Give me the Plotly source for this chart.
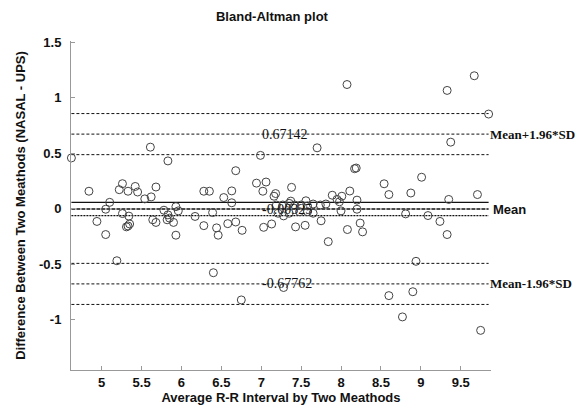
import plotly.graph_objects as go

# ---- data ----
avg_rr = [4.62, 4.84, 4.94, 5.05, 5.05, 5.10, 5.19, 5.22, 5.26, 5.26, 5.31, 5.33, 5.35, 5.33, 5.34,
          5.42, 5.45, 5.54, 5.62, 5.61, 5.64, 5.68, 5.68, 5.78, 5.83, 5.83, 5.85, 5.82, 5.90, 5.93,
          5.96, 5.93, 6.17, 6.28, 6.35, 6.28, 6.39, 6.40, 6.44, 6.46, 6.53, 6.58, 6.63, 6.63, 6.68,
          6.68, 6.76, 6.75, 6.94, 6.99, 7.02, 7.03, 7.06, 7.13, 7.16, 7.18, 7.28, 7.28, 7.38, 7.37,
          7.43, 7.55, 7.56, 7.70, 7.75, 7.84, 7.95, 7.98, 8.00, 8.01, 8.075, 8.08, 8.11, 8.19, 8.17,
          8.20, 8.20, 8.24, 8.27, 8.54, 8.60, 8.60, 8.77, 8.81, 8.875, 8.90, 8.94, 9.01, 9.09, 9.24,
          9.33, 9.33, 9.35, 9.375, 9.67, 9.71, 9.75, 9.85,
          7.19, 7.27, 7.35, 7.42, 7.50, 7.58, 7.65, 7.81, 7.89, 7.21, 7.35, 7.48, 7.58, 7.65, 7.74]
diff = [0.457, 0.157, -0.115, -0.233, -0.005, 0.057, -0.469, 0.171, 0.225, -0.044, -0.164, -0.156, -0.138, 0.157, -0.067,
        0.20, 0.15, 0.088, 0.106, 0.554, -0.10, -0.124, 0.195, -0.014, 0.43, -0.056, -0.085, -0.10, -0.124, 0.018,
        -0.02, -0.239, -0.07, 0.157, 0.157, -0.153, -0.035, -0.577, -0.173, -0.239, 0.10, -0.135, 0.16, 0.053, 0.342,
        -0.12, -0.195, -0.822, 0.23, 0.48, 0.157, -0.168, 0.24, -0.138, 0.112, 0.136, -0.065, -0.71, 0.192, 0.068,
        -0.164, -0.15, 0.071, 0.548, -0.109, -0.297, 0.083, 0.062, -0.02, 0.112, 1.118, -0.188, 0.159, 0.366, 0.36,
        0.077, -0.005, -0.13, -0.209, 0.224, 0.127, -0.783, -0.975, -0.047, 0.141, -0.748, -0.474, 0.283, -0.062, -0.115,
        1.065, -0.233, 0.083, 0.599, 1.197, 0.127, -1.096, 0.852,
        0.033, 0.033, 0.048, 0.033, 0.033, 0.024, 0.042, 0.042, 0.121, -0.041, -0.041, -0.027, -0.027, -0.041, 0.033]

mean_diff = -0.0031
upper_loa = 0.67142
lower_loa = -0.67762
loa_ci = 0.185
mean_ci = 0.059

upper_text = "0.67142"
lower_text = "-0.67762"
mean_text = "-0.00325"

x_ticks = [5, 5.5, 6, 6.5, 7, 7.5, 8, 8.5, 9, 9.5]
x_tick_text = ["5", "5.5", "6", "6.5", "7", "7.5", "8", "8.5", "9", "9.5"]
y_ticks = [-1, -0.5, 0, 0.5, 1, 1.5]
y_tick_text = ["-1", "-0.5", "0", "0.5", "1", "1.5"]

title = "Bland-Altman plot"
x_title = "Average R-R Interval by Two Meathods"
y_title = "Difference Between Two Meathods (NASAL - UPS)"

# ---- figure ----
x0 = min(avg_rr)
x1 = max(avg_rr)
fig = go.Figure()

def hline(y, dash, width, color="#111"):
    fig.add_trace(go.Scatter(x=[x0, x1], y=[y, y], mode="lines",
                             line=dict(color=color, width=width, dash=dash),
                             hoverinfo="skip", showlegend=False))

hline(upper_loa + loa_ci, "3px,2px", 1)
hline(upper_loa, "3px,2px", 1)
hline(upper_loa - loa_ci, "3px,2px", 1)
hline(mean_diff + mean_ci, "solid", 1.3)
hline(mean_diff, "4px,1px", 1.6)
hline(mean_diff - mean_ci, "2px,1px", 1.3)
hline(lower_loa + loa_ci, "3px,2px", 1)
hline(lower_loa, "3px,2px", 1)
hline(lower_loa - loa_ci, "3px,2px", 1)

fig.add_trace(go.Scatter(x=avg_rr, y=diff, mode="markers", cliponaxis=False,
                         marker=dict(symbol="circle-open", size=8,
                                     line=dict(width=1, color="#444"), color="#444"),
                         showlegend=False))

serif = "Liberation Serif, Times New Roman, serif"
sans = "Liberation Sans, Arial, sans-serif"

for y, t in [(upper_loa, upper_text), (mean_diff, mean_text), (lower_loa, lower_text)]:
    fig.add_annotation(x=6.99, y=y, text=t, showarrow=False, xanchor="left", yanchor="middle",
                       font=dict(family=serif, size=14, color="#111"), bgcolor="rgba(0,0,0,0)")

fig.add_annotation(x=1.0, xref="paper", y=upper_loa, text="Mean+1.96*SD", showarrow=False,
                   xanchor="left", yanchor="middle", xshift=-3,
                   font=dict(family=serif, size=13, color="#111", weight="bold"))
fig.add_annotation(x=1.0, xref="paper", y=mean_diff, text="Mean", showarrow=False,
                   xanchor="left", yanchor="middle", xshift=0,
                   font=dict(family=sans, size=13, color="#111", weight="bold"))
fig.add_annotation(x=1.0, xref="paper", y=lower_loa, text="Mean-1.96*SD", showarrow=False,
                   xanchor="left", yanchor="middle", xshift=-3,
                   font=dict(family=serif, size=13, color="#111", weight="bold"))

fig.update_layout(
    width=584, height=405,
    margin=dict(l=63, r=101, t=33, b=37),
    paper_bgcolor="white", plot_bgcolor="white",
    title=dict(text=title, x=0.452, xanchor="center", y=0.98, yanchor="middle",
               font=dict(family=sans, size=13, color="#111", weight="bold")),
    xaxis=dict(range=[4.615, 9.88], tickvals=x_ticks, ticktext=x_tick_text,
               showgrid=False, zeroline=False, showline=True, linecolor="#999", linewidth=1,
               ticks="inside", ticklen=4, tickcolor="#999",
               tickfont=dict(family=sans, size=13, color="#111", weight="bold"),
               title=dict(text=x_title, standoff=2,
                          font=dict(family=sans, size=13, color="#111", weight="bold"))),
    yaxis=dict(range=[-1.453, 1.51], tickvals=y_ticks, ticktext=y_tick_text,
               showgrid=False, zeroline=False, showline=True, linecolor="#999", linewidth=1,
               ticks="inside", ticklen=4, tickcolor="#999", ticklabelstandoff=6,
               tickfont=dict(family=sans, size=13, color="#111", weight="bold"),
               title=dict(text=y_title, standoff=10,
                          font=dict(family=sans, size=13, color="#111", weight="bold"))),
)

fig.write_html("out.html")
